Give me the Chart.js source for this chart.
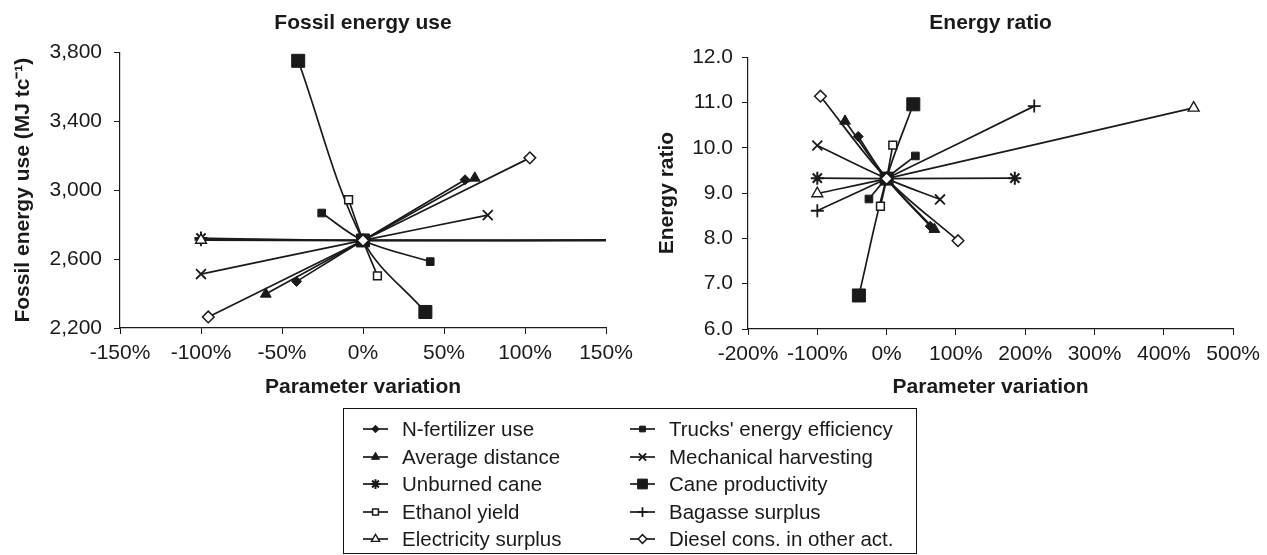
<!DOCTYPE html>
<html><head><meta charset="utf-8">
<script src="https://cdn.jsdelivr.net/npm/chart.js@4/dist/chart.umd.min.js"></script>
<style>
html,body{margin:0;padding:0;background:#fff;}
#wrap{position:relative;width:1267px;height:555px;overflow:hidden;background:#fff;font-family:"Liberation Sans",Arial,sans-serif;}
#c1{position:absolute;left:0;top:0;}
#c2{position:absolute;left:640px;top:0;}
#legend{position:absolute;left:343px;top:408px;width:574px;height:146px;border:1px solid #111;box-sizing:border-box;}
.item{position:absolute;height:24px;display:flex;align-items:center;font-size:20.5px;color:#1a1a1a;white-space:nowrap;}
.item canvas{margin-right:14px;}
</style></head>
<body><div id="wrap">
<canvas id="c1" width="640" height="410"></canvas>
<canvas id="c2" width="627" height="410"></canvas>
<div id="legend"></div>
</div>
<script>
// ---------- data ----------
const seriesNames = ["N-fertilizer use","Trucks' energy efficiency","Average distance","Mechanical harvesting","Unburned cane","Cane productivity","Ethanol yield","Bagasse surplus","Electricity surplus","Diesel cons. in other act."];
const variationLow  = [-41, -25.5, -60, -100, -100, -40, -8.9, -100, -100, -95.5];
const variationHigh = [ 63,  41.5,  69,   77,  185, 38.5,  8.9,  213,  443,  103];
const fossilBase = 2708;
const fossilLow  = [2470, 2867, 2397, 2513, 2722, 3750, 2944, 2712, 2710, 2264];
const fossilHigh = [3060, 2585, 3070, 2855, 2712, 2293, 2503, 2710, 2706, 3187];
const ratioBase = 9.32;
const ratioLow  = [10.25, 8.87, 10.59, 10.05, 9.33, 6.74, 8.71, 8.61, 8.99, 11.14];
const ratioHigh = [ 8.27, 9.82,  8.20,  8.86, 9.33, 10.96, 10.06, 10.92, 10.88, 7.95];
const xTicksFossil = [-150, -100, -50, 0, 50, 100, 150];
const yTicksFossil = [2200, 2600, 3000, 3400, 3800];
const xTicksRatio = [-200, -100, 0, 100, 200, 300, 400, 500];
const yTicksRatio = [6, 7, 8, 9, 10, 11, 12];

// ---------- styles ----------
const FONT = '"Liberation Sans", Arial, sans-serif';
const INK = '#1a1a1a';
const markerStyles = [
  {pointStyle:'rectRot', radius:5, fill:INK, bw:1},
  {pointStyle:'rect', radius:5.4, fill:INK, bw:1},
  {pointStyle:'triangle', radius:6.2, fill:INK, bw:1},
  {pointStyle:'crossRot', radius:7, fill:INK, bw:1.8},
  {pointStyle:'star', radius:6.5, fill:INK, bw:2},
  {pointStyle:'rect', radius:9.2, fill:INK, bw:1},
  {pointStyle:'rect', radius:5.5, fill:'#fff', bw:1.5},
  {pointStyle:'cross', radius:6.5, fill:INK, bw:1.8},
  {pointStyle:'triangle', radius:6.3, fill:'#fff', bw:1.4},
  {pointStyle:'rectRot', radius:5.8, fill:'#fff', bw:1.5}
];

function makeDatasets(base, low, high) {
  return seriesNames.map((name, i) => ({
    label: name,
    data: [{x: variationLow[i], y: low[i]}, {x: 0, y: base}, {x: variationHigh[i], y: high[i]}],
    showLine: true,
    tension: 0.35,
    borderColor: INK,
    borderWidth: 1.7,
    pointStyle: markerStyles[i].pointStyle,
    pointRadius: markerStyles[i].radius,
    pointBackgroundColor: markerStyles[i].fill,
    pointBorderColor: INK,
    pointBorderWidth: markerStyles[i].bw,
    order: seriesNames.length - i
  }));
}

function makeOptions(cfg) {
  return {
    responsive: false,
    animation: false,
    events: [],
    layout: {padding: {left: 0, right: cfg.padRight, top: 0, bottom: 0}},
    plugins: {
      legend: {display: false},
      tooltip: {enabled: false},
      title: {display: true, text: cfg.title, fullSize: false, color: INK,
        font: {family: FONT, size: 21, weight: 'bold'},
        padding: {top: 11, bottom: cfg.titleBottom}}
    },
    scales: {
      x: {
        type: 'linear', min: cfg.xTicks[0], max: cfg.xTicks[cfg.xTicks.length - 1],
        afterBuildTicks: s => { s.ticks = cfg.xTicks.map(v => ({value: v})); },
        afterFit: s => { s.height = 410 - cfg.axisBottom; },
        ticks: {callback: v => v + '%', color: INK, padding: 7, maxRotation: 0, autoSkip: false,
          font: {family: FONT, size: 21}},
        grid: {drawOnChartArea: false, drawTicks: true, tickLength: 6, color: INK, lineWidth: 1},
        border: {color: INK, width: 1.2},
        title: {display: true, text: 'Parameter variation', color: INK,
          font: {family: FONT, size: 21, weight: 'bold'}, padding: {top: 0, bottom: 10}}
      },
      y: {
        type: 'linear', min: cfg.yTicks[0], max: cfg.yTicks[cfg.yTicks.length - 1],
        afterBuildTicks: s => { s.ticks = cfg.yTicks.map(v => ({value: v})); },
        afterFit: s => { s.width = cfg.axisLeft; },
        ticks: {callback: cfg.yFmt, color: INK, padding: cfg.yTickPad, autoSkip: false,
          font: {family: FONT, size: 21}},
        grid: {drawOnChartArea: false, drawTicks: true, tickLength: 6, color: INK, lineWidth: 1},
        border: {color: INK, width: 1.2},
        title: {display: true, text: cfg.yTitle, color: INK,
          font: {family: FONT, size: 21, weight: 'bold'}, padding: {top: cfg.yTitlePad, bottom: 0}}
      }
    }
  };
}

new Chart(document.getElementById('c1'), {
  type: 'scatter',
  data: {datasets: makeDatasets(fossilBase, fossilLow, fossilHigh)},
  options: makeOptions({
    title: 'Fossil energy use', titleBottom: 16, padRight: 34, axisLeft: 120, axisBottom: 328,
    xTicks: xTicksFossil, yTicks: yTicksFossil, yTickPad: 12,
    yFmt: v => Number(v).toLocaleString('en-US'),
    yTitle: 'Fossil energy use (MJ tc\u207B\u00B9)', yTitlePad: 11
  })
});

new Chart(document.getElementById('c2'), {
  type: 'scatter',
  data: {datasets: makeDatasets(ratioBase, ratioLow, ratioHigh)},
  options: makeOptions({
    title: 'Energy ratio', titleBottom: 21, padRight: 26, axisLeft: 108, axisBottom: 329,
    xTicks: xTicksRatio, yTicks: yTicksRatio, yTickPad: 9,
    yFmt: v => Number(v).toFixed(1),
    yTitle: 'Energy ratio', yTitlePad: 15
  })
});

// ---------- legend (column-major, as in the reference) ----------
const legend = document.getElementById('legend');
const legendOrder = [0, 2, 4, 6, 8, 1, 3, 5, 7, 9];
legendOrder.forEach((idx, k) => {
  const col = Math.floor(k / 5), row = k % 5;
  const item = document.createElement('div');
  item.className = 'item';
  item.style.left = (col === 0 ? 19 : 286) + 'px';
  item.style.top = (8 + row * 27.5) + 'px';
  const cv = document.createElement('canvas');
  cv.width = 25; cv.height = 20;
  item.appendChild(cv);
  const sp = document.createElement('span');
  sp.textContent = seriesNames[idx];
  item.appendChild(sp);
  legend.appendChild(item);
  const ctx = cv.getContext('2d');
  ctx.strokeStyle = INK; ctx.lineWidth = 1.7;
  ctx.beginPath(); ctx.moveTo(0, 10); ctx.lineTo(25, 10); ctx.stroke();
  const m = markerStyles[idx];
  ctx.fillStyle = m.fill; ctx.strokeStyle = INK; ctx.lineWidth = m.bw;
  Chart.helpers.drawPoint(ctx, {pointStyle: m.pointStyle, radius: m.radius * 0.75, rotation: 0, borderWidth: m.bw}, 12.5, 10);
});
</script>
</body></html>
